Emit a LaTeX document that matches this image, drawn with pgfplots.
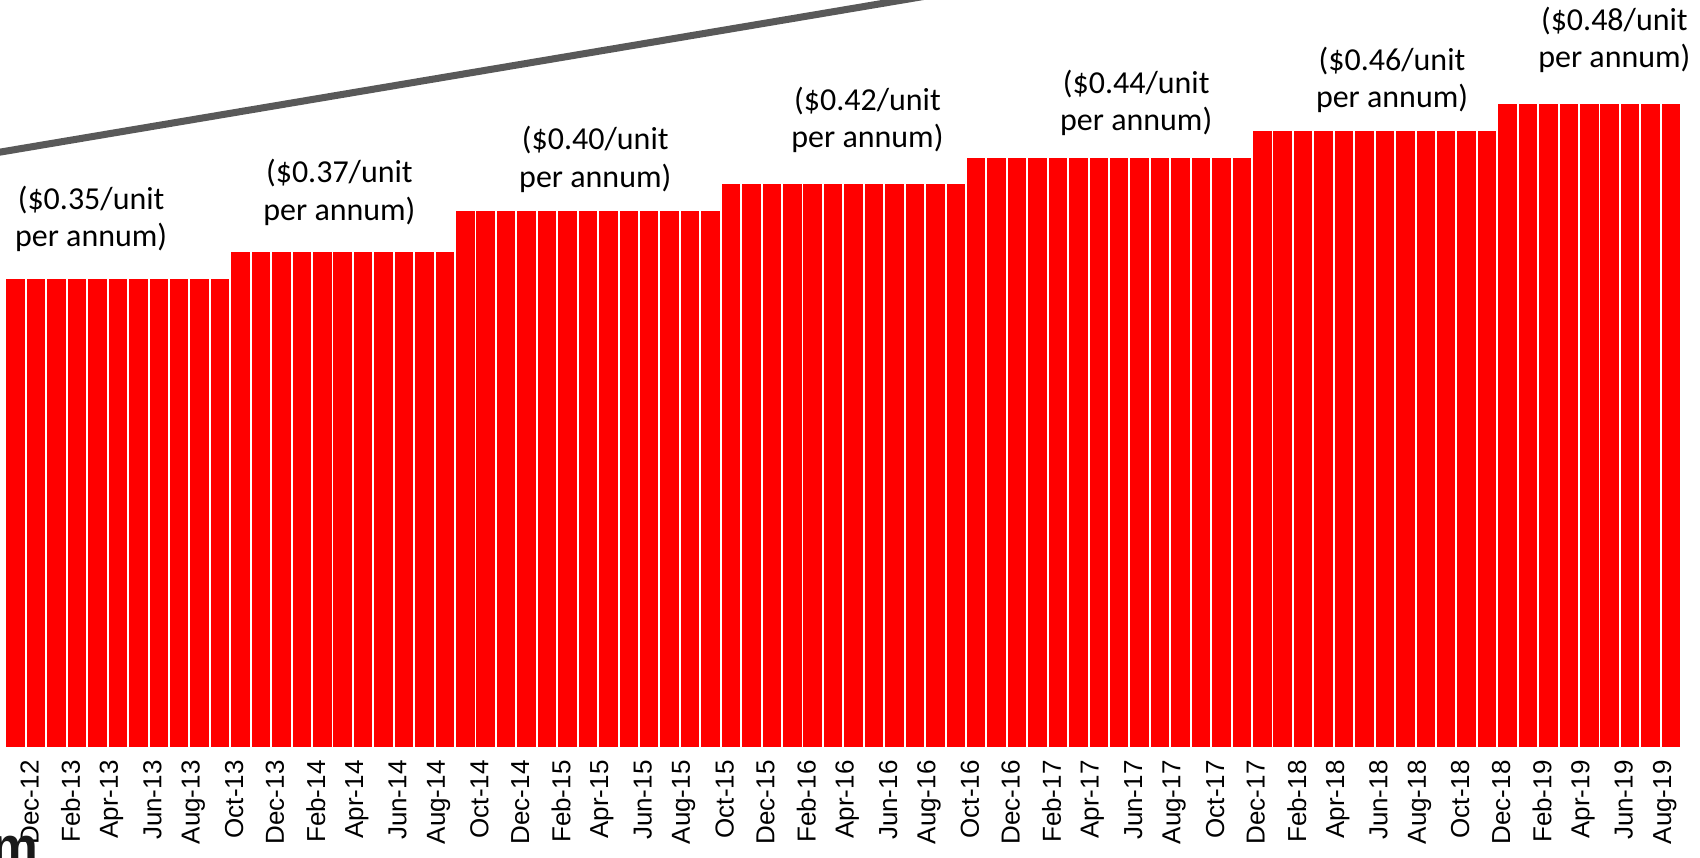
\documentclass[border=0pt]{standalone}
\usepackage{pgfplots}
\pgfplotsset{compat=1.18}
\usepackage{pgfplotstable}
\usepackage{fontspec}
\setmainfont{Carlito}
\newfontfamily\arial{Liberation Sans}
\definecolor{barred}{HTML}{FF0000}
\definecolor{linegray}{HTML}{595959}
\pgfplotstableread{
x y
0 0.35
1 0.35
2 0.35
3 0.35
4 0.35
5 0.35
6 0.35
7 0.35
8 0.35
9 0.35
10 0.35
11 0.37
12 0.37
13 0.37
14 0.37
15 0.37
16 0.37
17 0.37
18 0.37
19 0.37
20 0.37
21 0.37
22 0.40
23 0.40
24 0.40
25 0.40
26 0.40
27 0.40
28 0.40
29 0.40
30 0.40
31 0.40
32 0.40
33 0.40
34 0.40
35 0.42
36 0.42
37 0.42
38 0.42
39 0.42
40 0.42
41 0.42
42 0.42
43 0.42
44 0.42
45 0.42
46 0.42
47 0.44
48 0.44
49 0.44
50 0.44
51 0.44
52 0.44
53 0.44
54 0.44
55 0.44
56 0.44
57 0.44
58 0.44
59 0.44
60 0.44
61 0.46
62 0.46
63 0.46
64 0.46
65 0.46
66 0.46
67 0.46
68 0.46
69 0.46
70 0.46
71 0.46
72 0.46
73 0.48
74 0.48
75 0.48
76 0.48
77 0.48
78 0.48
79 0.48
80 0.48
81 0.48
}\datatable
\begin{document}
\begin{tikzpicture}
\begin{axis}[
  scale only axis,
  width=17cm, height=7.48cm,
  xmin=-0.77, xmax=82.42,
  ymin=0, ymax=0.5565,
  axis line style={draw=none},
  major tick length=0pt,
  ytick=\empty,
  xtick={0,2,...,80},
  xticklabels={Dec-12,Feb-13,Apr-13,Jun-13,Aug-13,Oct-13,Dec-13,Feb-14,Apr-14,Jun-14,Aug-14,Oct-14,Dec-14,Feb-15,Apr-15,Jun-15,Aug-15,Oct-15,Dec-15,Feb-16,Apr-16,Jun-16,Aug-16,Oct-16,Dec-16,Feb-17,Apr-17,Jun-17,Aug-17,Oct-17,Dec-17,Feb-18,Apr-18,Jun-18,Aug-18,Oct-18,Dec-18,Feb-19,Apr-19,Jun-19,Aug-19},
  xticklabel style={rotate=90, anchor=east, font=\arial\fontsize{7.4}{9}\selectfont, yshift=-4pt},
  clip=true,
]
\addplot[ybar, bar width=1, fill=barred, draw=white, line width=0.55pt] table[x=x,y=y] {\datatable};
\addplot[linegray, line width=2pt] coordinates {(-3,0.4376) (50,0.5734)};
\begin{scope}[every node/.style={align=center, font=\fontsize{9.1}{10.6}\selectfont, inner sep=0pt}]
\node at (axis cs:3.69,0.3935) {(\$0.35/unit\\per annum)};
\node at (axis cs:15.84,0.4133) {(\$0.37/unit\\per annum)};
\node at (axis cs:28.36,0.4379) {(\$0.40/unit\\per annum)};
\node at (axis cs:41.68,0.4673) {(\$0.42/unit\\per annum)};
\node at (axis cs:54.83,0.4798) {(\$0.44/unit\\per annum)};
\node at (axis cs:67.35,0.4972) {(\$0.46/unit\\per annum)};
\node at (axis cs:78.23,0.5270) {(\$0.48/unit\\per annum)};
\end{scope}
\end{axis}
\node[anchor=north, inner sep=0pt, text=black!90, font=\arial\bfseries\fontsize{15}{15}\selectfont] at ([xshift=1.5mm, yshift=-8.7mm]current axis.south west) {m};
\pgfresetboundingbox
\useasboundingbox ([yshift=-1.1cm]current axis.south west) rectangle (current axis.north east);
\end{tikzpicture}
\end{document}
